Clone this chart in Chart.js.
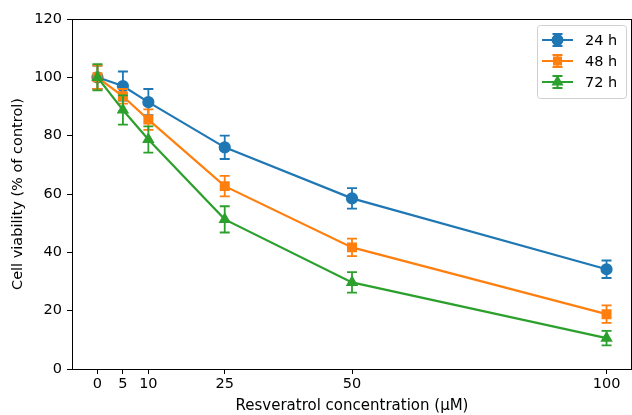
<!DOCTYPE html>
<html>
<head>
<meta charset="utf-8">
<script src="https://cdn.jsdelivr.net/npm/chart.js@4"></script>
<style>
  html, body { margin: 0; padding: 0; background: #fff; }
  #wrap { width: 632px; height: 415px; }
</style>
</head>
<body>
<div id="wrap"><canvas id="viability" width="632" height="415"></canvas></div>
<script>
// values
const concentrations = [0, 5, 10, 25, 50, 100];
const xTicks = [0, 5, 10, 25, 50, 100];
const yTicks = [0, 20, 40, 60, 80, 100, 120];
const seriesNames = ['24 h', '48 h', '72 h'];
const mean24 = [100, 97, 91.5, 76, 58.5, 34.2];
const err24 = [4, 5, 4.5, 4, 3.5, 3];
const mean48 = [100, 93.5, 85.5, 62.7, 41.7, 18.8];
const err48 = [4, 2.5, 3.5, 3.5, 3, 3];
const mean72 = [100, 88.8, 78.7, 51.3, 29.7, 10.6];
const err72 = [4.5, 5, 4.5, 4.5, 3.5, 2.5];

const colors = ['#1f77b4', '#ff7f0e', '#2ca02c'];
const markers = ['circle', 'rect', 'triangle'];
const means = [mean24, mean48, mean72];
const errs = [err24, err48, err72];
const font = 'DejaVu Sans';
const fsize = 14.5;

function pts(vals) {
  return concentrations.map((c, i) => ({ x: c, y: vals[i] }));
}

// error bars with caps, drawn through the chart's own scales
const errorBars = {
  id: 'errorBars',
  afterDatasetDraw(chart, args) {
    const i = args.index;
    const ctx = chart.ctx;
    const xs = chart.scales.x, ys = chart.scales.y;
    ctx.save();
    ctx.strokeStyle = colors[i];
    ctx.lineWidth = 1.8;
    concentrations.forEach((c, k) => {
      const px = xs.getPixelForValue(c);
      const top = ys.getPixelForValue(means[i][k] + errs[i][k]);
      const bot = ys.getPixelForValue(means[i][k] - errs[i][k]);
      ctx.beginPath();
      ctx.moveTo(px, top); ctx.lineTo(px, bot);
      ctx.moveTo(px - 5, top); ctx.lineTo(px + 5, top);
      ctx.moveTo(px - 5, bot); ctx.lineTo(px + 5, bot);
      ctx.stroke();
    });
    ctx.restore();
  }
};

// frame + matplotlib-like legend box
const frameAndLegend = {
  id: 'frameAndLegend',
  afterDraw(chart) {
    const ctx = chart.ctx;
    const a = chart.chartArea;
    ctx.save();
    ctx.strokeStyle = '#000';
    ctx.lineWidth = 1;
    ctx.strokeRect(Math.round(a.left) + 0.5, Math.round(a.top) + 0.5,
      Math.round(a.right - a.left) - 1, Math.round(a.bottom - a.top));

    const bx = 537, by = 25, bw = 89, bh = 73;
    ctx.fillStyle = 'rgba(255,255,255,0.8)';
    ctx.strokeStyle = '#d0d0d0';
    ctx.beginPath();
    ctx.roundRect(bx + 0.5, by + 0.5, bw, bh, 3);
    ctx.fill(); ctx.stroke();

    seriesNames.forEach((name, i) => {
      const ly = by + 15 + i * 21;
      const x0 = bx + 5, x1 = bx + 36, xm = (x0 + x1) / 2;
      ctx.strokeStyle = colors[i];
      ctx.fillStyle = colors[i];
      ctx.lineWidth = 2;
      ctx.beginPath();
      ctx.moveTo(x0, ly); ctx.lineTo(x1, ly);
      ctx.moveTo(xm, ly - 6); ctx.lineTo(xm, ly + 6);
      ctx.moveTo(xm - 5, ly - 6); ctx.lineTo(xm + 5, ly - 6);
      ctx.moveTo(xm - 5, ly + 6); ctx.lineTo(xm + 5, ly + 6);
      ctx.stroke();
      Chart.helpers.drawPoint(ctx, { pointStyle: markers[i], radius: 5, borderWidth: 1 }, xm, ly);
      ctx.fillStyle = '#000';
      ctx.font = fsize + 'px "' + font + '"';
      ctx.textBaseline = 'middle';
      ctx.fillText(name, bx + 48, ly + 1);
    });
    ctx.restore();
  }
};

new Chart(document.getElementById('viability'), {
  type: 'line',
  data: {
    datasets: seriesNames.map((name, i) => ({
      label: name,
      data: pts(means[i]),
      borderColor: colors[i],
      backgroundColor: colors[i],
      borderWidth: 2.2,
      pointStyle: markers[i],
      pointRadius: i === 1 ? 5.5 : 5,
      pointHoverRadius: 5,
      tension: 0,
      order: 3 - i
    }))
  },
  options: {
    responsive: false,
    animation: false,
    layout: { autoPadding: false, padding: { top: 19, right: 0, left: 0, bottom: 0 } },
    plugins: {
      legend: { display: false },
      tooltip: { enabled: false }
    },
    scales: {
      x: {
        type: 'linear',
        min: -5,
        max: 105,
        afterBuildTicks(scale) { scale.ticks = xTicks.map(v => ({ value: v })); },
        afterFit(scale) { scale.height = 46; scale.paddingLeft = 0; scale.paddingRight = 0; },
        grid: { drawOnChartArea: false, drawTicks: true, tickLength: 5, color: '#000' },
        border: { display: true, color: '#000' },
        ticks: { color: '#000', font: { family: font, size: fsize }, padding: 2, maxRotation: 0 },
        title: { display: true, text: 'Resveratrol concentration (µM)', color: '#000',
          font: { family: font, size: 15 }, padding: { top: 0, bottom: 0 } }
      },
      y: {
        min: 0,
        max: 120,
        afterBuildTicks(scale) { scale.ticks = yTicks.map(v => ({ value: v })); },
        afterFit(scale) { scale.width = 72; },
        grid: { drawOnChartArea: false, drawTicks: true, tickLength: 5, color: '#000' },
        border: { display: true, color: '#000' },
        ticks: { color: '#000', font: { family: font, size: fsize }, padding: 5 },
        title: { display: true, text: 'Cell viability (% of control)', color: '#000',
          font: { family: font, size: fsize }, padding: { top: 10, bottom: 0 } }
      }
    }
  },
  plugins: [errorBars, frameAndLegend]
});
</script>
</body>
</html>
